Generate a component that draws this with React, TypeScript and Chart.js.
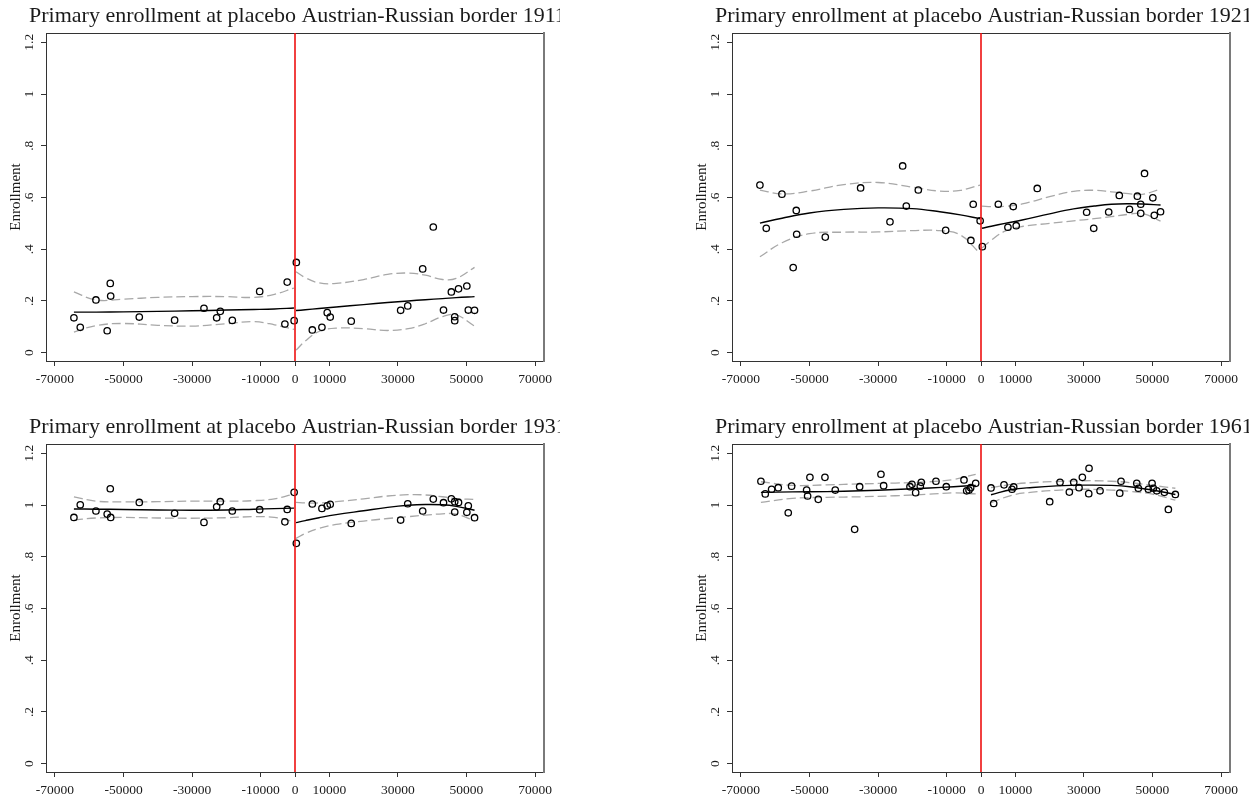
import React, { useEffect, useRef } from "react";
import { Chart, registerables } from "chart.js";

Chart.register(...registerables);

// ---------- axis ticks ----------
const xTickValues = [-70000, -50000, -30000, -10000, 0, 10000, 30000, 50000, 70000];
const yTickValues = [0, 0.2, 0.4, 0.6, 0.8, 1, 1.2];
const yTickLabels = ["0", ".2", ".4", ".6", ".8", "1", "1.2"];
const X_MIN = -72600;
const X_MAX = 72600;
const Y_MIN = -0.032;
const Y_MAX = 1.236;

// ---------- data: 1911 / 1921 / 1931 (same districts) ----------
const distance = [
  -64460, -62610, -58040, -54760, -53860, -53740, -45400, -35100, -26540, -22840, -21780, -18280,
  -10300, -2950, -2270, -250, 390, 5050, 7850, 9400, 10270, 16400, 30800, 32870, 37230, 40320,
  43300, 45590, 46570, 46570, 47680, 50100, 50530, 52350,
];
const enroll1911 = [
  0.135, 0.098, 0.204, 0.085, 0.268, 0.219, 0.138, 0.126, 0.172, 0.135, 0.16, 0.125, 0.237, 0.111,
  0.273, 0.124, 0.349, 0.088, 0.098, 0.155, 0.138, 0.122, 0.164, 0.181, 0.324, 0.486, 0.165, 0.235,
  0.139, 0.124, 0.247, 0.258, 0.165, 0.164,
];
const enroll1921 = [
  0.648, 0.481, 0.613, 0.329, 0.55, 0.458, 0.447, 0.637, 0.506, 0.722, 0.567, 0.629, 0.473, 0.434,
  0.574, 0.51, 0.41, 0.574, 0.485, 0.565, 0.491, 0.635, 0.543, 0.481, 0.544, 0.608, 0.554, 0.605,
  0.574, 0.539, 0.693, 0.599, 0.531, 0.545,
];
const enroll1931 = [
  0.952, 1.001, 0.977, 0.965, 1.063, 0.952, 1.01, 0.968, 0.933, 0.993, 1.013, 0.977, 0.982, 0.935,
  0.983, 1.049, 0.852, 1.004, 0.987, 0.997, 1.003, 0.929, 0.942, 1.005, 0.977, 1.023, 1.009, 1.024,
  1.013, 0.973, 1.01, 0.972, 0.997, 0.951,
];

// ---------- data: 1961 ----------
const distance1961 = [
  -64170, -62900, -61050, -59110, -56200, -55220, -50840, -50550, -49880, -47450, -45500, -42490,
  -36840, -35380, -29170, -28390, -20710, -20130, -19050, -17700, -17410, -13130, -10120, -4960,
  -4180, -3500, -3010, -1550, 2920, 3700, 6710, 9040, 9530, 20030, 23040, 25760, 27040, 28580,
  29550, 31410, 31500, 34710, 40450, 40830, 45410, 45880, 48800, 49880, 50250, 51240, 53460, 54630,
  56670,
];
const enroll1961 = [
  1.092, 1.043, 1.061, 1.067, 0.97, 1.073, 1.058, 1.035, 1.107, 1.022, 1.107, 1.058, 0.906, 1.071,
  1.119, 1.075, 1.071, 1.08, 1.048, 1.073, 1.088, 1.092, 1.071, 1.097, 1.055, 1.058, 1.067, 1.084,
  1.066, 1.006, 1.078, 1.061, 1.07, 1.013, 1.088, 1.05, 1.088, 1.067, 1.107, 1.044, 1.142, 1.055,
  1.046, 1.092, 1.084, 1.065, 1.061, 1.084, 1.065, 1.055, 1.049, 0.983, 1.041,
];

// ---------- fitted curves and confidence bands ----------
const leftGrid = [-64460, -58000, -50000, -40000, -30000, -20000, -12000, -6000, -300];
const rightGrid = [300, 3000, 7000, 12000, 20000, 27000, 33000, 38000, 43000, 47000, 52350];

const fit1911Left = [0.157, 0.157, 0.158, 0.16, 0.162, 0.165, 0.167, 0.169, 0.173];
const upper1911Left = [0.235, 0.204, 0.207, 0.214, 0.217, 0.217, 0.214, 0.226, 0.25];
const lower1911Left = [0.08, 0.105, 0.113, 0.106, 0.103, 0.112, 0.12, 0.108, 0.09];
const fit1911Right = [0.163, 0.166, 0.171, 0.177, 0.186, 0.194, 0.2, 0.205, 0.209, 0.213, 0.217];
const upper1911Right = [0.313, 0.29, 0.27, 0.268, 0.283, 0.303, 0.308, 0.3, 0.283, 0.287, 0.33];
const lower1911Right = [0.01, 0.045, 0.082, 0.095, 0.093, 0.086, 0.093, 0.112, 0.14, 0.146, 0.103];

const fit1921Left = [0.501, 0.52, 0.54, 0.554, 0.56, 0.557, 0.545, 0.533, 0.518];
const upper1921Left = [0.629, 0.614, 0.625, 0.65, 0.658, 0.64, 0.625, 0.628, 0.648];
const lower1921Left = [0.371, 0.425, 0.46, 0.466, 0.467, 0.472, 0.472, 0.455, 0.384];
const fit1921Right = [0.481, 0.489, 0.5, 0.513, 0.537, 0.556, 0.567, 0.574, 0.576, 0.575, 0.571];
const upper1921Right = [0.567, 0.565, 0.566, 0.575, 0.603, 0.624, 0.628, 0.622, 0.615, 0.612, 0.633];
const lower1921Right = [0.405, 0.435, 0.47, 0.488, 0.5, 0.51, 0.518, 0.526, 0.535, 0.538, 0.509];

const fit1931Left = [0.985, 0.984, 0.983, 0.981, 0.98, 0.981, 0.984, 0.986, 0.988];
const upper1931Left = [1.032, 1.015, 1.012, 1.013, 1.015, 1.015, 1.017, 1.024, 1.043];
const lower1931Left = [0.942, 0.95, 0.952, 0.95, 0.949, 0.951, 0.955, 0.952, 0.936];
const fit1931Right = [0.932, 0.94, 0.951, 0.963, 0.978, 0.991, 0.999, 1.002, 1.001, 0.995, 0.98];
const upper1931Right = [1.01, 1.008, 1.008, 1.013, 1.024, 1.035, 1.04, 1.039, 1.032, 1.025, 1.022];
const lower1931Right = [0.871, 0.89, 0.91, 0.925, 0.938, 0.948, 0.955, 0.961, 0.966, 0.965, 0.939];

const leftGrid1961 = [-64170, -55000, -45000, -35000, -25000, -15000, -8000, -1550];
const rightGrid1961 = [2920, 9000, 15000, 22000, 30000, 38000, 44000, 50000, 56670];
const fit1961Left = [1.049, 1.051, 1.052, 1.055, 1.06, 1.066, 1.071, 1.076];
const upper1961Left = [1.09, 1.076, 1.078, 1.082, 1.085, 1.09, 1.099, 1.119];
const lower1961Left = [1.01, 1.026, 1.03, 1.032, 1.036, 1.042, 1.047, 1.043];
const fit1961Right = [1.04, 1.06, 1.068, 1.074, 1.077, 1.076, 1.07, 1.058, 1.041];
const upper1961Right = [1.067, 1.08, 1.087, 1.091, 1.094, 1.092, 1.086, 1.076, 1.065];
const lower1961Right = [1.009, 1.038, 1.05, 1.057, 1.061, 1.058, 1.052, 1.042, 1.019];

// ---------- styling ----------
const SERIF = "'Liberation Serif', 'Times New Roman', serif";
const TEXT = "#1a1a1a";
const AXIS = "#333333";
const PLOT_LEFT = 46;
const PLOT_RIGHT = 544;
const PLOT_BOTTOM = 361;
const PAD_LEFT = 29;
const CANVAS_W = 576;

const zip = (xs: number[], ys: number[]) => xs.map((x, i) => ({ x, y: ys[i] }));

type PanelProps = {
  title: string;
  xs: number[];
  ys: number[];
  lx: number[];
  rx: number[];
  fitL: number[];
  upL: number[];
  loL: number[];
  fitR: number[];
  upR: number[];
  loR: number[];
  width: number;
  height: number;
};

function Panel(p: PanelProps) {
  const ref = useRef<HTMLCanvasElement | null>(null);
  useEffect(() => {
    if (!ref.current) return;
    const fitStyle = {
      showLine: true,
      borderColor: "#000",
      borderWidth: 1.4,
      pointRadius: 0,
      tension: 0.4,
      fill: false,
    };
    const ciStyle = {
      showLine: true,
      borderColor: "#a8a8a8",
      borderWidth: 1.3,
      borderDash: [9, 4],
      pointRadius: 0,
      tension: 0.4,
      fill: false,
    };
    const tickFont = { family: SERIF, size: 13.5 };
    const chart = new Chart(ref.current, {
      type: "scatter",
      data: {
        datasets: [
          {
            label: "Border",
            data: [
              { x: 0, y: Y_MIN },
              { x: 0, y: Y_MAX },
            ],
            showLine: true,
            borderColor: "#ee1111",
            borderWidth: 1.6,
            pointRadius: 0,
          },
          {
            label: "Enrollment",
            data: zip(p.xs, p.ys),
            pointRadius: 3.2,
            pointBorderWidth: 1.3,
            borderColor: "#000",
            backgroundColor: "rgba(0,0,0,0)",
            showLine: false,
          },
          { label: "Fit left", data: zip(p.lx, p.fitL), ...fitStyle },
          { label: "Fit right", data: zip(p.rx, p.fitR), ...fitStyle },
          { label: "Upper CI left", data: zip(p.lx, p.upL), ...ciStyle },
          { label: "Lower CI left", data: zip(p.lx, p.loL), ...ciStyle },
          { label: "Upper CI right", data: zip(p.rx, p.upR), ...ciStyle },
          { label: "Lower CI right", data: zip(p.rx, p.loR), ...ciStyle },
        ],
      },
      options: {
        animation: false,
        responsive: false,
        devicePixelRatio: 1,
        events: [],
        layout: { padding: { left: PAD_LEFT, right: 0, top: 0, bottom: 0 } },
        plugins: {
          legend: { display: false },
          tooltip: { enabled: false },
          title: {
            display: true,
            text: p.title,
            align: "start",
            color: TEXT,
            font: { family: SERIF, size: 22, weight: "normal" },
            padding: { top: 2.9, bottom: 3.7 },
          },
        },
        scales: {
          x: {
            type: "linear",
            position: "bottom",
            min: X_MIN,
            max: X_MAX,
            afterBuildTicks: (s: any) => {
              s.ticks = xTickValues.map((v) => ({ value: v }));
            },
            afterFit: (s: any) => {
              s.height = p.height - PLOT_BOTTOM;
              s.paddingLeft = 0;
              s.paddingRight = 0;
            },
            ticks: {
              autoSkip: false,
              minRotation: 0,
              maxRotation: 0,
              padding: 5,
              color: TEXT,
              font: tickFont,
              callback: (v: any) => String(v),
            },
            grid: {
              display: true,
              drawOnChartArea: false,
              drawTicks: true,
              tickLength: 5,
              color: AXIS,
              tickColor: AXIS,
            },
            border: { display: true, color: AXIS, width: 1 },
          },
          x2: {
            type: "linear",
            axis: "x",
            position: "top",
            display: true,
            min: X_MIN,
            max: X_MAX,
            ticks: { display: false },
            grid: { display: false, drawTicks: false },
            border: { display: true, color: AXIS, width: 1 },
            afterFit: (s: any) => {
              s.height = 0;
              s.paddingLeft = 0;
              s.paddingRight = 0;
            },
          },
          y: {
            type: "linear",
            position: "left",
            min: Y_MIN,
            max: Y_MAX,
            afterBuildTicks: (s: any) => {
              s.ticks = yTickValues.map((v) => ({ value: v }));
            },
            afterFit: (s: any) => {
              s.width = PLOT_LEFT - PAD_LEFT;
              s.paddingTop = 0;
              s.paddingBottom = 0;
            },
            ticks: {
              autoSkip: false,
              minRotation: 90,
              maxRotation: 90,
              mirror: true,
              crossAlign: "center",
              padding: -25.4,
              color: TEXT,
              font: tickFont,
              callback: (v: any, i: number) => yTickLabels[i],
            },
            title: {
              display: true,
              text: "Enrollment",
              color: TEXT,
              font: { family: SERIF, size: 15 },
              padding: { top: -21.6, bottom: 0 },
            },
            grid: {
              display: true,
              drawOnChartArea: false,
              drawTicks: true,
              tickLength: 5,
              color: AXIS,
              tickColor: AXIS,
            },
            border: { display: true, color: AXIS, width: 1 },
          },
          y2: {
            type: "linear",
            axis: "y",
            position: "right",
            display: true,
            min: Y_MIN,
            max: Y_MAX,
            ticks: { display: false },
            grid: { display: false, drawTicks: false },
            border: { display: true, color: "#7a7a7a", width: 2 },
            afterFit: (s: any) => {
              s.width = p.width - PLOT_RIGHT;
              s.paddingTop = 0;
              s.paddingBottom = 0;
            },
          },
        },
      } as any,
    });
    return () => chart.destroy();
  }, []);
  return (
    <canvas
      ref={ref}
      width={p.width}
      height={p.height}
      style={{ display: "block", width: p.width, height: p.height }}
    />
  );
}

export default function App() {
  const topH = 400;
  const botH = 387;
  return (
    <div
      style={{
        position: "fixed",
        left: 0,
        top: 0,
        width: 1249,
        height: 798,
        background: "#fff",
        overflow: "hidden",
      }}
    >
      <div style={{ position: "absolute", left: 0, top: 0, width: 560, height: topH, overflow: "hidden" }}>
        <Panel
          title="Primary enrollment at placebo Austrian-Russian border 1911"
          xs={distance}
          ys={enroll1911}
          lx={leftGrid}
          rx={rightGrid}
          fitL={fit1911Left}
          upL={upper1911Left}
          loL={lower1911Left}
          fitR={fit1911Right}
          upR={upper1911Right}
          loR={lower1911Right}
          width={CANVAS_W}
          height={topH}
        />
      </div>
      <div style={{ position: "absolute", left: 686, top: 0, width: 563, height: topH, overflow: "hidden" }}>
        <Panel
          title="Primary enrollment at placebo Austrian-Russian border 1921"
          xs={distance}
          ys={enroll1921}
          lx={leftGrid}
          rx={rightGrid}
          fitL={fit1921Left}
          upL={upper1921Left}
          loL={lower1921Left}
          fitR={fit1921Right}
          upR={upper1921Right}
          loR={lower1921Right}
          width={CANVAS_W}
          height={topH}
        />
      </div>
      <div style={{ position: "absolute", left: 0, top: 411, width: 560, height: botH, overflow: "hidden" }}>
        <Panel
          title="Primary enrollment at placebo Austrian-Russian border 1931"
          xs={distance}
          ys={enroll1931}
          lx={leftGrid}
          rx={rightGrid}
          fitL={fit1931Left}
          upL={upper1931Left}
          loL={lower1931Left}
          fitR={fit1931Right}
          upR={upper1931Right}
          loR={lower1931Right}
          width={CANVAS_W}
          height={botH}
        />
      </div>
      <div style={{ position: "absolute", left: 686, top: 411, width: 563, height: botH, overflow: "hidden" }}>
        <Panel
          title="Primary enrollment at placebo Austrian-Russian border 1961"
          xs={distance1961}
          ys={enroll1961}
          lx={leftGrid1961}
          rx={rightGrid1961}
          fitL={fit1961Left}
          upL={upper1961Left}
          loL={lower1961Left}
          fitR={fit1961Right}
          upR={upper1961Right}
          loR={lower1961Right}
          width={CANVAS_W}
          height={botH}
        />
      </div>
    </div>
  );
}
